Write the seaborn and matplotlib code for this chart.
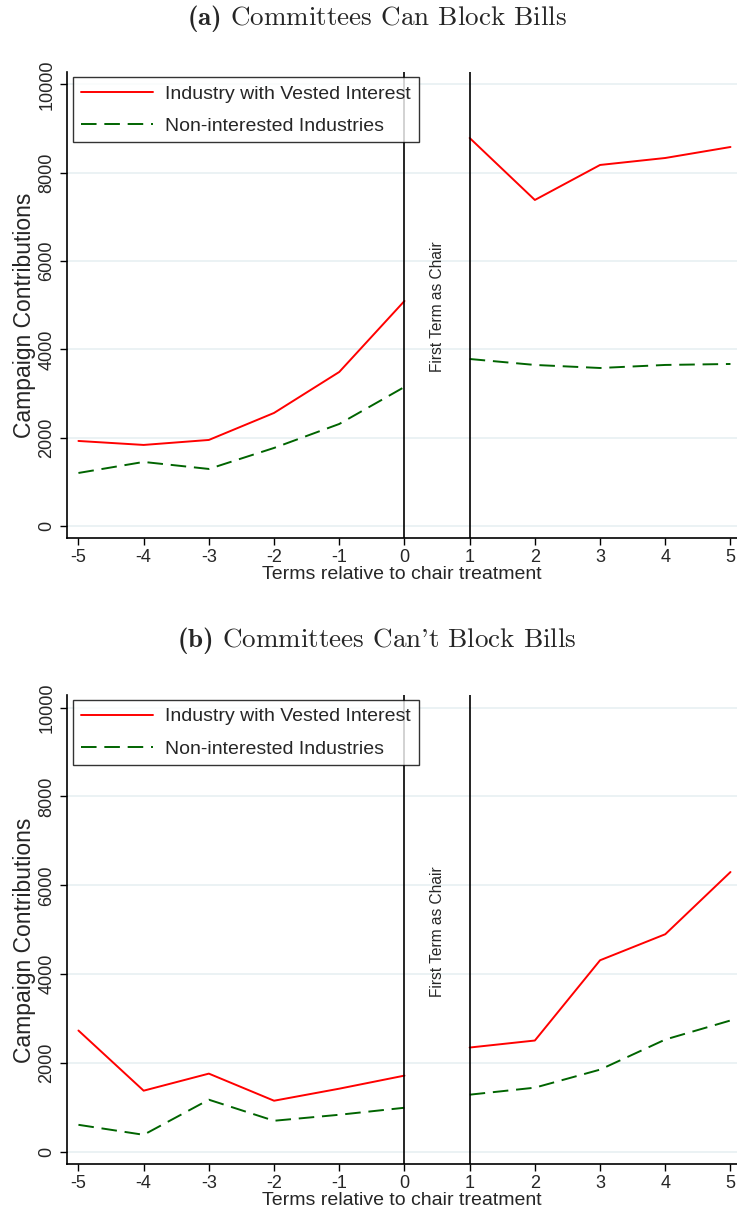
import matplotlib
matplotlib.use("Agg")
import matplotlib.pyplot as plt
from matplotlib.lines import Line2D
import pandas as pd
import seaborn as sns

terms = [-5, -4, -3, -2, -1, 0, 1, 2, 3, 4, 5]

a_vested = [1925, 1835, 1948, 2560, 3488, 5096, 8788, 7384, 8177, 8335, 8584]
a_other = [1200, 1450, 1291, 1767, 2310, 3148, 3782, 3647, 3578, 3647, 3669]

b_vested = [2731, 1377, 1761, 1151, 1422, 1716, 2348, 2506, 4312, 4898, 6298]
b_other = [609, 384, 1174, 700, 835, 993, 1287, 1445, 1851, 2528, 2957]

series_names = ["Industry with Vested Interest", "Non-interested Industries"]
titles = [r"$\mathbf{(a)}$ Committees Can Block Bills",
          r"$\mathbf{(b)}$ Committees Can't Block Bills"]
yticks = [0, 2000, 4000, 6000, 8000, 10000]

sns.set_theme(style="white")
plt.rcParams["font.family"] = ["Liberation Sans", "DejaVu Sans"]
plt.rcParams["mathtext.fontset"] = "custom"
plt.rcParams["mathtext.rm"] = "cmr10"
plt.rcParams["mathtext.bf"] = "cmb10"

colors = {series_names[0]: "#ff0000", series_names[1]: "#006400"}
dashes = {series_names[0]: "", series_names[1]: (8, 4)}


def make_frame(vested, other):
    rows = []
    for name, vals in zip(series_names, [vested, other]):
        for t, v in zip(terms, vals):
            rows.append({"term": t, "value": v, "series": name,
                         "segment": "pre" if t <= 0 else "post"})
    return pd.DataFrame(rows)


fig = plt.figure(figsize=(7.37, 12.16), dpi=100)
ax_a = fig.add_axes([0.0905, 0.5576, 0.9095, 0.3832])
ax_b = fig.add_axes([0.0905, 0.0428, 0.9095, 0.3857])

panels = [(ax_a, make_frame(a_vested, a_other), 0.985),
          (ax_b, make_frame(b_vested, b_other), 0.473)]

for i, (ax, df, title_y) in enumerate(panels):
    ax.set_axisbelow(True)
    ax.yaxis.grid(True, color="#e8f0f2", lw=1.2)
    for seg in ["pre", "post"]:
        sub = df[df["segment"] == seg]
        sns.lineplot(data=sub, x="term", y="value", hue="series", style="series",
                     palette=colors, dashes=dashes, lw=1.4, legend=False, ax=ax)
    ax.axvline(0, color="black", lw=1.2)
    ax.axvline(1, color="black", lw=1.2)
    ax.text(0.5, 4960, "First Term as Chair", rotation=90, ha="center", va="center",
            fontsize=11.2)
    ax.set_xlim(-5.18, 5.1)
    ax.set_ylim(-272, 10283)
    ax.set_xticks(terms)
    ax.set_xticklabels([str(t) for t in terms])
    ax.set_yticks(yticks)
    ax.set_yticklabels([str(t) for t in yticks], rotation=90, va="center")
    ax.tick_params(axis="both", labelsize=13, length=5, width=1, color="black",
                   direction="out", bottom=True, left=True, pad=3)
    ax.set_xlabel("Terms relative to chair treatment", fontsize=14, labelpad=0)
    ax.set_ylabel("Campaign Contributions", fontsize=16.5)
    ax.yaxis.set_label_coords(-0.046, 0.477)
    sns.despine(ax=ax)
    for side in ["left", "bottom"]:
        ax.spines[side].set_color("black")
        ax.spines[side].set_linewidth(1.2)
    handles = [Line2D([], [], color=colors[n], lw=1.4,
                      linestyle="-" if n == series_names[0] else (0, (8, 4)))
               for n in series_names]
    leg = ax.legend(handles, series_names, loc="upper left",
                    bbox_to_anchor=(0.0094, 0.989), borderaxespad=0, fontsize=14,
                    handlelength=3.7, handletextpad=0.65, frameon=True,
                    fancybox=False, edgecolor="black", borderpad=0.4,
                    labelspacing=0.75)
    leg.get_frame().set_linewidth(1.0)
    fig.text(0.511, title_y, titles[i], ha="center", va="center", fontsize=19.5,
             family="cmr10")

fig.savefig("out.png", dpi=100)
